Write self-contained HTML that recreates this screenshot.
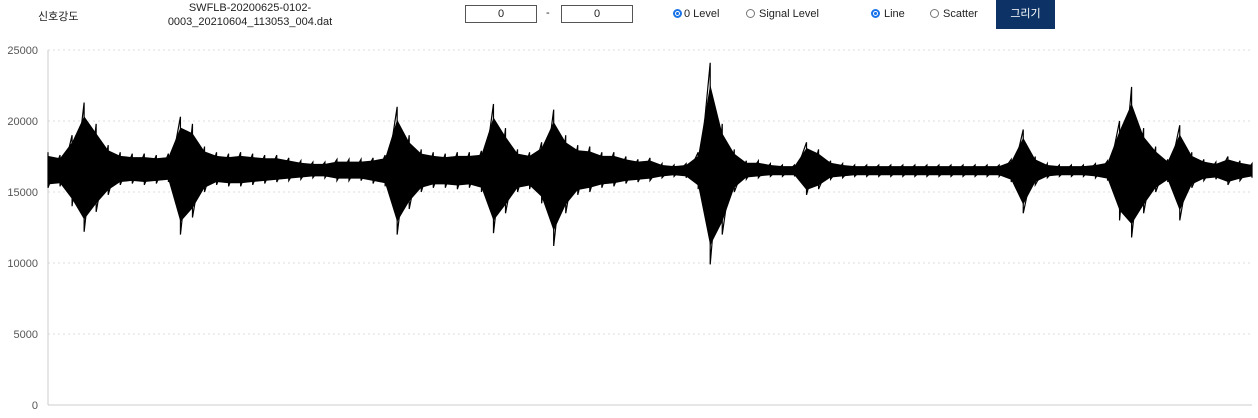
<!DOCTYPE html>
<html><head><meta charset="utf-8"><style>
body{margin:0;width:1258px;height:418px;background:#fff;font-family:"Liberation Sans","Noto Sans CJK KR",sans-serif;font-size:11px;color:#222;position:relative;overflow:hidden}
.a{position:absolute}
.inp{position:absolute;top:5px;width:70px;height:16px;border:1px solid #555;text-align:center;font-size:11px;line-height:16px}
.rad{position:absolute;top:9px;width:9px;height:9px;border:1px solid #777;border-radius:50%;box-sizing:border-box}
.rad.on{border:2px solid #1a73e8;background:radial-gradient(#1a73e8 40%,#fff 45%)}
</style></head><body>
<div class="a" style="left:38px;top:8px">신호강도</div>
<div class="a" style="left:160px;top:1px;width:180px;text-align:center;line-height:14px">SWFLB-20200625-0102-<br>0003_20210604_113053_004.dat</div>
<div class="inp" style="left:465px">0</div>
<div class="a" style="left:546px;top:7px">-</div>
<div class="inp" style="left:561px">0</div>
<div class="rad on" style="left:673px"></div>
<div class="a" style="left:684px;top:8px">0 Level</div>
<div class="rad" style="left:746px"></div>
<div class="a" style="left:759px;top:8px">Signal Level</div>
<div class="rad on" style="left:871px"></div>
<div class="a" style="left:884px;top:8px">Line</div>
<div class="rad" style="left:930px"></div>
<div class="a" style="left:943px;top:8px">Scatter</div>
<div class="a" style="left:996px;top:0;width:59px;height:29px;background:#0d3366;color:#fff;text-align:center;line-height:28px">그리기</div>
<svg class="a" id="chart" style="left:0;top:0" width="1258" height="418"></svg>
<script>
const yTicks=[0,5000,10000,15000,20000,25000];
const maxVals=[17800,17600,19000,21300,19800,18300,17800,17700,17700,17600,17700,20300,19800,18200,17800,17700,17800,17700,17600,17600,17400,17200,17100,17100,17300,17300,17300,17400,17600,21000,19000,18000,17800,17700,17800,17800,17900,21200,19500,18000,17800,18500,20800,19000,18300,18200,17800,17800,17500,17300,17400,17000,16900,17000,17800,24100,19800,18000,17200,17200,17000,16900,16900,18500,18000,17200,17000,16900,16900,16900,16900,16900,16900,16900,16900,16900,16900,16900,16900,16900,17300,19400,17500,17000,16900,16900,16900,17000,17200,20000,22400,19500,18200,17300,19700,17800,17300,17100,17500,17200,17000];
const minVals=[15300,15400,14000,12200,13600,14800,15500,15600,15500,15600,15700,12000,13200,15000,15500,15400,15400,15500,15600,15700,15800,15900,16000,16000,15800,15800,15800,15600,15400,12000,13800,15000,15300,15300,15200,15300,15000,12100,13500,15000,15200,14200,11200,13500,14800,15000,15300,15400,15600,15700,15800,16000,16100,16000,15200,9900,12000,15000,15900,16000,16100,16100,16100,14800,15200,15900,16000,16100,16100,16100,16100,16100,16100,16100,16100,16100,16100,16100,16100,16100,15700,13500,15500,16000,16100,16100,16100,16000,15800,13000,11800,13500,15000,15700,13000,15300,15800,15900,15500,15800,16000];
const NS='http://www.w3.org/2000/svg',svg=document.getElementById('chart');
const X0=48,X1=1252,Y0=405,Y1=50,MID=16500;
const y=v=>Y0-(v/25000)*(Y0-Y1);
const x=i=>X0+i*(X1-X0)/(maxVals.length-1);
const core=v=>MID+0.8*(v-MID);
function mk(t,a){const e=document.createElementNS(NS,t);for(const k in a)e.setAttribute(k,a[k]);svg.appendChild(e);return e;}
yTicks.forEach(v=>{
 if(v>0){const g=mk('line',{x1:X0,x2:X1,y1:y(v),y2:y(v),stroke:'#ddd','stroke-dasharray':'2,3'});
 
 }
 const t=mk('text',{x:38,y:y(v)+4,'text-anchor':'end','font-size':'11',fill:'#555','font-family':'Liberation Sans, sans-serif'});
 t.textContent=v;
 
 
});
const ax=mk('line',{x1:X0,x2:X0,y1:Y1,y2:Y0,stroke:'#ccc'});


const bx=mk('line',{x1:X0,x2:X1,y1:Y0,y2:Y0,stroke:'#ccc'});


let pts=maxVals.map((v,i)=>x(i)+','+y(core(v)));
for(let i=minVals.length-1;i>=0;i--)pts.push(x(i)+','+y(core(minVals[i])));
const env=mk('polygon',{points:pts.join(' '),fill:'#000'});


let d='';
maxVals.forEach((v,i)=>{d+=(i?'L':'M')+x(i)+' '+y(v)+'L'+x(i)+' '+y(minVals[i]);});
const ln=mk('path',{d:d,stroke:'#000','stroke-width':'1.2',fill:'none'});


</script>
</body></html>
